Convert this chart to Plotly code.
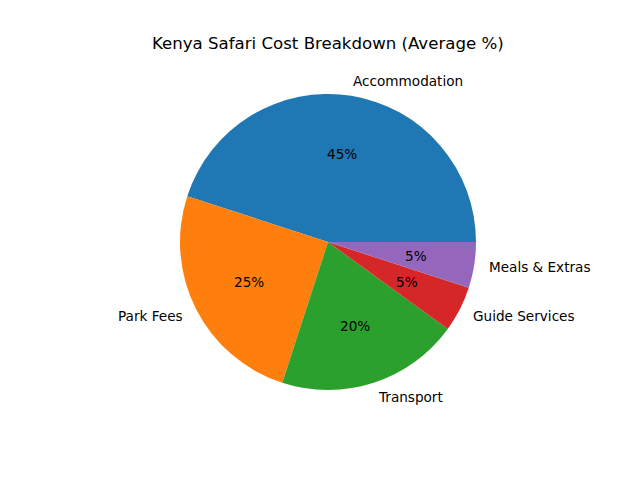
import math
import plotly.graph_objects as go

categories = ["Accommodation", "Park Fees", "Transport", "Guide Services", "Meals & Extras"]
shares = [45, 25, 20, 5, 5]
colors = ["#1f77b4", "#ff7f0e", "#2ca02c", "#d62728", "#9467bd"]

W, H = 640, 480
cx, cy, r = 328, 242, 148  # pie centre / radius in pixels
font = "DejaVu Sans"

fig = go.Figure()
fig.add_trace(go.Pie(
    labels=categories, values=shares, sort=False,
    direction="counterclockwise", rotation=288,
    marker=dict(colors=colors, line=dict(width=0)),
    textinfo="none", hoverinfo="skip", showlegend=False,
    domain=dict(x=[(cx - r) / W, (cx + r) / W], y=[1 - (cy + r) / H, 1 - (cy - r) / H]),
))

# matplotlib-style labels: names at 1.1 r, percentages at 0.6 r
total = sum(shares)
start = 0.0
annotations = []
for name, v in zip(categories, shares):
    span = 360.0 * v / total
    mid = math.radians(start + span / 2)
    start += span
    c, s = math.cos(mid), math.sin(mid)
    annotations.append(dict(
        x=(cx + 1.1 * r * c) / W, y=1 - (cy - 1.1 * r * s) / H,
        xref="paper", yref="paper", text=name, showarrow=False,
        xanchor="left" if c > 0 else "right", yanchor="middle",
        xshift=-2 if c > 0 else 2,
        font=dict(family=font, size=13.6, color="black"),
    ))
    annotations.append(dict(
        x=(cx + 0.6 * r * c) / W, y=1 - (cy - 0.6 * r * s) / H,
        xref="paper", yref="paper", text="%.0f%%" % (100.0 * v / total),
        showarrow=False, xanchor="center", yanchor="middle",
        font=dict(family=font, size=13.6, color="black"),
    ))

annotations.append(dict(
    x=cx / W, y=1 - 43 / H, xref="paper", yref="paper",
    text="Kenya Safari Cost Breakdown (Average %)", showarrow=False,
    xanchor="center", yanchor="middle",
    font=dict(family=font, size=16.6, color="black"),
))

fig.update_layout(
    width=W, height=H,
    margin=dict(l=0, r=0, t=0, b=0),
    paper_bgcolor="white", plot_bgcolor="white",
    annotations=annotations,
)

fig.write_html("out.html", config={"displayModeBar": False},
               post_script="document.body.style.margin='0';")
